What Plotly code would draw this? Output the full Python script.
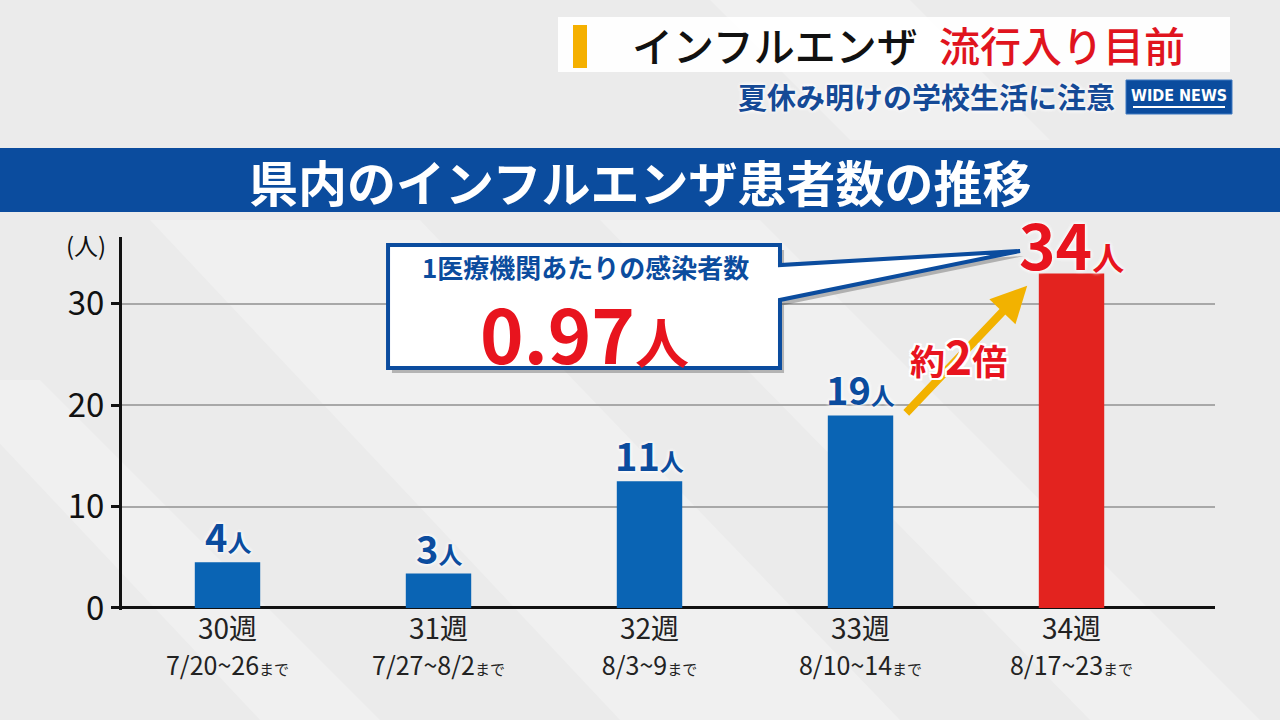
import plotly.graph_objects as go

# データ
weeks = ["30週", "31週", "32週", "33週", "34週"]
periods = ["7/20~26", "7/27~8/2", "8/3~9", "8/10~14", "8/17~23"]
bar_heights = [4.5, 3.4, 12.5, 19.0, 33.0]   # 画面上の棒の高さ
label_values = [4, 3, 11, 19, 34]            # 棒の上の表示値
per_clinic = "0.97"
y_ticks = [0, 10, 20, 30]

BLUE = "#0a64b4"
RED = "#e3231f"
NAVY = "#0b4c9e"
FONT = "Noto Sans CJK JP"

# 余白 (px)
L, R, T, B = 122, 65, 237, 110
W, H = 1280, 720
PW, PH = W - L - R, H - T - B


def px(x):
    return (x - L) / PW


def py(y):
    return 1 - (y - T) / PH


def path(points):
    return "M " + " L ".join(f"{px(a):.4f},{py(b):.4f}" for a, b in points) + " Z"


def rect(x0, y0, x1, y1, color, line=None, layer="above", opacity=1):
    return dict(type="rect", xref="paper", yref="paper",
                x0=px(x0), x1=px(x1), y0=py(y1), y1=py(y0),
                fillcolor=color, line=line or dict(width=0),
                layer=layer, opacity=opacity)


def text(x, y, s, size, color, xanchor="center", yanchor="middle", weight="bold",
         family=FONT, shadow=None):
    return dict(xref="paper", yref="paper", x=px(x), y=py(y), text=s,
                showarrow=False, xanchor=xanchor, yanchor=yanchor,
                font=dict(size=size, color=color, family=family, weight=weight,
                          shadow=shadow or "none"))


outline = ", ".join(f"{dx}px {dy}px 0 white" for dx in (-2, 0, 2) for dy in (-2, 0, 2))
glow = "0 0 4px white, 0 0 4px white"

bar_colors = [BLUE] * (len(weeks) - 1) + [RED]
tick_text = [f"{w}<br><span style='font-size:25px'>{p}</span><span style='font-size:15px'>まで</span>"
             for w, p in zip(weeks, periods)]

fig = go.Figure(go.Bar(
    x=weeks, y=bar_heights, marker=dict(color=bar_colors, line=dict(width=0)),
    width=0.31, hoverinfo="skip",
))

shapes = []
# 背景の斜めの光
for pts in [
    [(150, 220), (420, 220), (900, 720), (620, 720)],
    [(600, 220), (760, 220), (1260, 720), (1090, 720)],
    [(-60, 380), (40, 380), (380, 720), (260, 720)],
    [(700, -10), (900, -10), (1050, 140), (850, 140)],
]:
    shapes.append(dict(type="path", xref="paper", yref="paper", path=path(pts),
                       fillcolor="white", opacity=0.25, line=dict(width=0), layer="below"))

# ヘッダー
shapes.append(rect(558, 17, 1230, 72, "white", opacity=0.95))
shapes.append(rect(573, 25, 587, 68, "#f5b000"))
shapes.append(rect(1126, 80, 1232, 114, NAVY, line=dict(color="#3f78c0", width=1)))
shapes.append(dict(type="line", xref="paper", yref="paper",
                   x0=px(1133), x1=px(1225), y0=py(107), y1=py(107),
                   line=dict(color="white", width=2)))
# タイトル帯
shapes.append(rect(0, 148, 1280, 212, NAVY))

# 吹き出し
balloon = [(388, 245), (780, 245), (780, 265), (1020, 251), (780, 300), (780, 368), (388, 368)]
shapes.append(dict(type="path", xref="paper", yref="paper",
                   path=path([(a + 4, b + 5) for a, b in balloon]),
                   fillcolor="rgba(0,0,0,0.25)", line=dict(width=0), layer="above"))
shapes.append(dict(type="path", xref="paper", yref="paper", path=path(balloon),
                   fillcolor="white", line=dict(color=NAVY, width=4), layer="above"))

annotations = [
    # 約2倍の矢印 (文字の下に置く)
    dict(x=3.79, y=31.8, ax=3.21, ay=19.1, xref="x", yref="y", axref="x", ayref="y",
         text="", showarrow=True, arrowhead=2, arrowsize=0.9, arrowwidth=8,
         arrowcolor="#f2b200"),
    text(630, 44, "インフルエンザ", 41, "#111111", xanchor="left", weight=500),
    text(937, 44, "流行入り目前", 41, "#e0141e", xanchor="left", weight=500),
    text(1117, 96, "夏休み明けの学校生活に注意", 29, "#154a96", xanchor="right", shadow=glow),
    text(1179, 95, "WIDE NEWS", 16,  "white",
         family="DejaVu Sans Condensed, Liberation Sans Narrow, Roboto, sans-serif"),
    text(640, 180, "県内のインフルエンザ患者数の推移", 49, "white"),
    text(86, 244, "(人)", 24, "#111111", weight=400),
    text(585, 266, "1医療機関あたりの感染者数", 26, NAVY),
    text(584, 331, f"{per_clinic}<span style='font-size:54px'>人</span>", 74, "#e8141e"),
    text(958, 355, "約<span style='font-size:46px'>2</span>倍", 35, "#e8141e", shadow=outline),
]

# 棒の上の数値
for i, (w, h, v) in enumerate(zip(weeks, bar_heights, label_values)):
    last = i == len(weeks) - 1
    color = "#e8141e" if last else NAVY
    big, small = (62, 32) if last else (38, 24)
    annotations.append(dict(
        x=w, y=h, xref="x", yref="y", yanchor="bottom", showarrow=False,
        yshift=-17 if last else -3,
        text=f"{v}<span style='font-size:{small}px'>人</span>",
        font=dict(size=big, color=color, family=FONT, weight="bold", shadow=glow),
    ))

fig.update_layout(
    width=W, height=H,
    margin=dict(l=L, r=R, t=T, b=B),
    paper_bgcolor="#ebebeb", plot_bgcolor="rgba(0,0,0,0)",
    font=dict(family=FONT, color="#111111"),
    showlegend=False,
    shapes=shapes, annotations=annotations,
    xaxis=dict(
        range=[-0.5, 4.68], tickvals=weeks, ticktext=tick_text,
        tickfont=dict(size=28, color="#222222"), ticks="", showgrid=False,
        showline=False, zeroline=False, fixedrange=True,
    ),
    yaxis=dict(
        range=[-0.2, 36.6], tickvals=y_ticks, tickfont=dict(size=33, color="#111111"),
        ticks="outside", ticklen=8, tickwidth=3, tickcolor="#111111",
        showline=True, linewidth=3, linecolor="#111111",
        showgrid=True, gridcolor="#a8a8a8", gridwidth=2,
        zeroline=True, zerolinecolor="#111111", zerolinewidth=3,
        fixedrange=True,
    ),
)

fig.write_html("out.html", config={"displayModeBar": False},
               post_script="document.body.style.margin='0';document.body.style.overflow='hidden';")
